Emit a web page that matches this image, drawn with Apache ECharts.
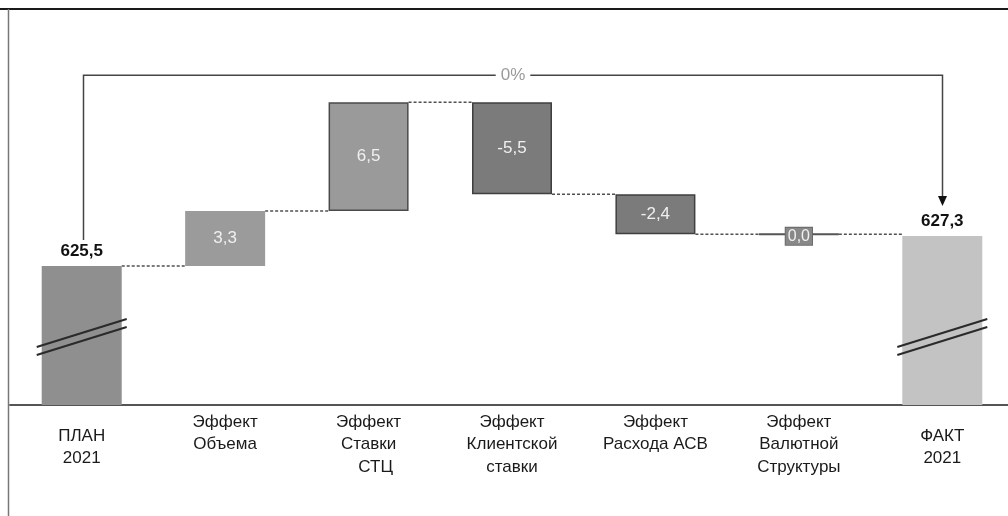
<!DOCTYPE html>
<html>
<head>
<meta charset="utf-8">
<script src="https://cdn.jsdelivr.net/npm/echarts@6/dist/echarts.min.js"></script>
<style>
  html, body { margin: 0; padding: 0; background: #fff; }
  #chart { width: 1008px; height: 516px; }
</style>
</head>
<body>
<div id="chart"></div>
<script>
// Bridge of the 2021 result: plan, individual effects, fact
const categories = [
  'ПЛАН\n2021',
  'Эффект\nОбъема',
  'Эффект\nСтавки\n   СТЦ',
  'Эффект\nКлиентской\nставки',
  'Эффект\nРасхода АСВ',
  'Эффект\nВалютной\nСтруктуры',
  'ФАКТ\n2021'
];
const planValue = 625.5;
const factValue = 627.3;
const effects = [3.3, 6.5, -5.5, -2.4, 0.0];

const FONT = "'Liberation Sans', Arial, sans-serif";
const Y_MIN = 617.2;
const Y_MAX = 640;
const BAR_W = 80;

// Running totals give the floating position of every effect bar
const levels = [planValue];
effects.forEach(e => levels.push(+(levels[levels.length - 1] + e).toFixed(1)));

const baseData = [0];
const barData = [planValue];
effects.forEach((e, i) => {
  baseData.push(Math.min(levels[i], levels[i + 1]));
  barData.push(Math.abs(e));
});
baseData.push(0);
barData.push(factValue);

const fmt = v => v.toFixed(1).replace('.', ',');
const topValue = Math.max.apply(null, levels);

const effectStyles = [
  { color: '#9b9b9b', borderColor: '#9b9b9b', borderWidth: 0 },
  { color: '#9a9a9a', borderColor: '#4a4a4a', borderWidth: 1.5 },
  { color: '#7b7b7b', borderColor: '#3f3f3f', borderWidth: 1.5 },
  { color: '#7b7b7b', borderColor: '#3f3f3f', borderWidth: 1.5 },
  { color: '#555555', borderColor: '#555555', borderWidth: 2 }
];

const totalLabel = {
  show: true, position: 'top', distance: 6,
  color: '#111', fontFamily: FONT, fontSize: 17, fontWeight: 'bold',
  formatter: p => fmt(p.value)
};

const visibleData = barData.map((v, i) => {
  if (i === 0) {
    return { value: v, itemStyle: { color: '#8f8f8f' }, label: totalLabel };
  }
  if (i === barData.length - 1) {
    return { value: v, itemStyle: { color: '#c3c3c3' }, label: totalLabel };
  }
  const e = effects[i - 1];
  const label = {
    show: true, position: 'inside', color: '#f0f0f0',
    fontFamily: FONT, fontSize: 17,
    formatter: () => fmt(e)
  };
  if (e === 0) {
    Object.assign(label, {
      fontSize: 16, offset: [0, 2],
      backgroundColor: '#888888', borderColor: '#6a6a6a', borderWidth: 1,
      padding: [1, 2, 0, 2], lineHeight: 16
    });
  }
  return { value: v, itemStyle: effectStyles[i - 1], label };
});

// Dashed connectors from each bar to the next one
const connectorData = levels.map((lvl, i) => [i, lvl]);

const chart = echarts.init(document.getElementById('chart'), null, { renderer: 'canvas' });

chart.setOption({
  animation: false,
  backgroundColor: '#fff',
  grid: {
    left: 10, right: -6, top: 23.5, bottom: 111,
    containLabel: false, outerBoundsMode: 'none'
  },
  xAxis: {
    type: 'category',
    data: categories.map((c, i) => (i === 0 || i === categories.length - 1)
      ? { value: c, textStyle: { padding: [14, 0, 0, 0] } }
      : c),
    axisLine: { show: true, onZero: false, lineStyle: { color: '#555', width: 2 } },
    axisTick: { show: false },
    axisLabel: {
      interval: 0, margin: 6, color: '#1a1a1a',
      fontFamily: FONT, fontSize: 17, lineHeight: 22.5
    }
  },
  yAxis: {
    type: 'value', min: Y_MIN, max: Y_MAX, show: false,
    splitLine: { show: false }
  },
  graphic: [
    { type: 'line', shape: { x1: 0, y1: 9, x2: 1008, y2: 9 },
      style: { stroke: '#1a1a1a', lineWidth: 2 }, z: 100 },
    { type: 'line', shape: { x1: 8.5, y1: 9, x2: 8.5, y2: 516 },
      style: { stroke: '#777', lineWidth: 1.5 }, z: 100 }
  ],
  series: [
    {
      type: 'bar', stack: 'bridge', barWidth: BAR_W, silent: true,
      itemStyle: { color: 'transparent' },
      data: baseData
    },
    {
      type: 'bar', stack: 'bridge', barWidth: BAR_W,
      data: visibleData
    },
    {
      type: 'custom', clip: false, z: 1,
      data: connectorData.slice(0, connectorData.length - 1).concat([[5, levels[5]]]),
      renderItem: (params, api) => {
        const i = api.value(0);
        const lvl = api.value(1);
        const a = api.coord([i, lvl]);
        const b = api.coord([i + 1, lvl]);
        return {
          type: 'line',
          shape: { x1: a[0] + BAR_W / 2, y1: a[1], x2: b[0] - BAR_W / 2, y2: b[1] },
          style: { stroke: '#505050', lineWidth: 1.5, lineDash: [3, 2] }
        };
      }
    },
    {
      // Plan-to-fact bracket with the overall deviation
      type: 'custom', clip: false, z: 5,
      data: [[0, planValue]],
      renderItem: (params, api) => {
        const last = categories.length - 1;
        const p = api.coord([0, planValue]);
        const f = api.coord([last, factValue]);
        const topY = api.coord([0, topValue])[1] - 27;
        const x0 = Math.round(p[0]) + 1.5;
        const x1 = Math.round(f[0]) + 0.5;
        const tipY = f[1] - 30;
        const pct = ((factValue - planValue) / planValue * 100).toFixed(0) + '%';
        return {
          type: 'group',
          children: [
            { type: 'polyline',
              shape: { points: [[x0, p[1] - 26], [x0, topY], [x1, topY], [x1, tipY - 9]] },
              style: { stroke: '#444', lineWidth: 1.5, fill: null } },
            { type: 'polygon',
              shape: { points: [[x1 - 4.5, tipY - 10], [x1 + 4.5, tipY - 10], [x1, tipY]] },
              style: { fill: '#111' } },
            { type: 'text', x: (x0 + x1) / 2, y: topY,
              style: { text: pct, fill: '#9a9a9a', font: '17px ' + FONT,
                       align: 'center', verticalAlign: 'middle',
                       backgroundColor: '#fff', padding: [2, 5] } }
          ]
        };
      }
    },
    {
      // Axis break marks on the two total bars
      type: 'custom', clip: false, z: 6,
      data: [[0, Y_MIN], [categories.length - 1, Y_MIN]],
      renderItem: (params, api) => {
        const c = api.coord([api.value(0), api.value(1)]);
        const cx = c[0], cy = c[1] - 68;
        const mk = d => ({
          type: 'line',
          shape: { x1: cx - 45, y1: cy + 14 + d, x2: cx + 45, y2: cy - 14 + d },
          style: { stroke: '#2a2a2a', lineWidth: 2 }
        });
        return { type: 'group', children: [mk(-4), mk(4)] };
      }
    }
  ]
});
</script>
</body>
</html>
